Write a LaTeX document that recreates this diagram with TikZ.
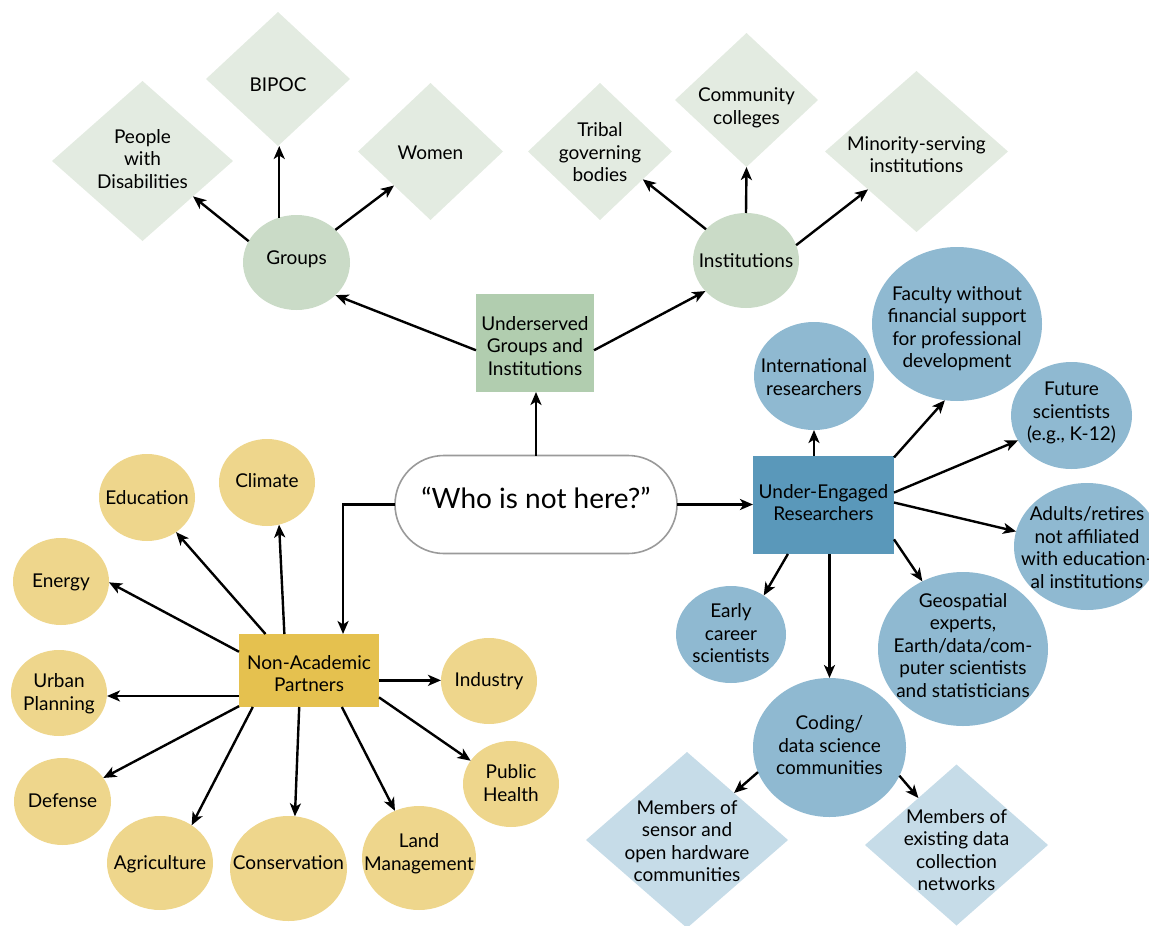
\documentclass[tikz,border=0pt]{standalone}
\usepackage{fontspec}
\setmainfont{Lato}
\usetikzlibrary{shapes.geometric,shapes.misc,arrows.meta}
\definecolor{gdia}{HTML}{E3EBE1}
\definecolor{gcir}{HTML}{CADBC7}
\definecolor{gbox}{HTML}{B1CDAF}
\definecolor{ycir}{HTML}{EED68C}
\definecolor{ybox}{HTML}{E5C14F}
\definecolor{bcir}{HTML}{8FB9D1}
\definecolor{bbox}{HTML}{5A98BA}
\definecolor{bdia}{HTML}{C6DCE8}
\definecolor{pillgray}{HTML}{9A9A9A}
\newcommand\ctext[2][0pt]{\makebox[0pt]{\raisebox{-0.3em}[0pt][0pt]{\raisebox{#1}{\begin{tabular}{@{}c@{}}#2\end{tabular}}}}}
\tikzset{
  base/.style={inner sep=0pt, outer sep=0pt, text=black, draw=none, font=\fontsize{19}{22.5}\selectfont},
  ell/.style n args={3}{base, ellipse, fill=#3, minimum width=2*#1, minimum height=2*#2},
  dia/.style n args={3}{base, diamond, fill=#3, minimum width=2*#1, minimum height=2*#2},
  boxn/.style n args={3}{base, rectangle, fill=#3, minimum width=2*#1, minimum height=2*#2},
  arr/.style={draw=black, line width=2.4pt, -{Stealth[length=13pt,width=11pt,inset=3.5pt]}},
}
\begin{document}
\begin{tikzpicture}[x=1pt,y=-1pt]
\useasboundingbox (0,0) rectangle (1149,926);

% ---- Underserved branch
\node[dia={90.5}{80}{gdia}] (ppl) at (142.5,161) {\ctext[1pt]{People\\with\\Disabilities}};
\node[dia={72}{67}{gdia}] (bip) at (278,79) {\ctext[-7pt]{BIPOC}};
\node[dia={72.5}{68.5}{gdia}] (wom) at (430.5,151.5) {\ctext[-2pt]{Women}};
\node[ell={53.5}{47.5}{gcir}] (grp) at (296.5,262.5) {\ctext[4pt]{Groups}};
\node[dia={72}{68.5}{gdia}] (tri) at (600,151.5) {\ctext[-2pt]{Tribal\\governing\\bodies}};
\node[dia={71.5}{67}{gdia}] (com) at (746.5,100) {\ctext[-7pt]{Community\\colleges}};
\node[dia={91.5}{80.5}{gdia}] (min) at (916.5,151.5) {\ctext[-4pt]{Minority-serving\\institutions}};
\node[ell={53}{47.5}{gcir}] (ins) at (746,260.5) {\ctext[-1pt]{Institutions}};
\node[boxn={59}{49}{gbox}] (us) at (535,343) {\ctext[-4pt]{Underserved\\Groups and\\Institutions}};

% ---- centre
\node[base, rounded rectangle, draw=pillgray, line width=1.6pt, fill=white,
  minimum width=282, minimum height=98, font=\fontsize{28}{34}\selectfont] (who) at (536,504.5)
  {\ctext[5pt]{“Who is not here?”}};

% ---- Under-engaged branch
\node[boxn={70.5}{49}{bbox}] (ue) at (823.5,505) {\ctext[1.5pt]{Under-Engaged\\Researchers}};
\node[ell={60}{54}{bcir}] (intl) at (814,376) {\ctext[-2pt]{International\\researchers}};
\node[ell={85}{77}{bcir}] (fac) at (957,324) {\ctext[-4pt]{Faculty without\\financial support\\for professional\\development}};
\node[ell={60.5}{53.5}{bcir}] (fut) at (1071.5,415.5) {\ctext[3pt]{Future\\scientists\\(e.g., K-12)}};
\node[ell={73}{63.5}{bcir}] (adu) at (1087,546.5) {\ctext[-2pt]{Adults/retires\\not affiliated\\with education-\\al institutions}};
\node[ell={85}{77}{bcir}] (geo) at (963,649) {\ctext[2.5pt]{Geospatial\\experts,\\Earth/data/com-\\puter scientists\\and statisticians}};
\node[ell={55}{48.5}{bcir}] (ear) at (731,634.5) {\ctext{Early\\career\\scientists}};
\node[ell={76.5}{69.5}{bcir}] (cod) at (829.5,747.5) {\ctext[1pt]{Coding/\\data science\\communities}};
\node[dia={101}{88}{bdia}] (sen) at (687,840) {\ctext[-2pt]{Members of\\sensor and\\open hardware\\communities}};
\node[dia={91.5}{80.5}{bdia}] (exi) at (956.5,845) {\ctext[-6pt]{Members of\\existing data\\collection\\networks}};

% ---- Non-academic branch
\node[boxn={70}{36.5}{ybox}] (na) at (309,670.5) {\ctext[-4pt]{Non-Academic\\Partners}};
\node[ell={48}{43.5}{ycir}] (edu) at (147,497.5) {\ctext[-1pt]{Education}};
\node[ell={48}{43.5}{ycir}] (cli) at (267,482.5) {\ctext[1pt]{Climate}};
\node[ell={48}{43.5}{ycir}] (ene) at (61,581.5) {\ctext{Energy}};
\node[ell={48}{43}{ycir}] (urb) at (59,693) {\ctext{Urban\\Planning}};
\node[ell={48.5}{43.5}{ycir}] (def) at (62.5,801.5) {\ctext{Defense}};
\node[ell={53}{47}{ycir}] (agr) at (160,863) {\ctext[-1pt]{Agriculture}};
\node[ell={58.5}{52.5}{ycir}] (con) at (288.5,868.5) {\ctext[5pt]{Conservation}};
\node[ell={57}{52}{ycir}] (lan) at (419,858) {\ctext[5pt]{Land\\Management}};
\node[ell={48}{43}{ycir}] (ind) at (489,681) {\ctext{Industry}};
\node[ell={48}{43}{ycir}] (pub) at (511,784) {\ctext{Public\\Health}};

% ---- connectors
\draw[arr] (who.north) -- (who.north |- us.south);
\draw[arr] (us.187.2) -- (grp.-40.4);
\draw[arr] (us.-7.2) -- (ins.217.5);
\draw[arr] (grp.156.1) -- (ppl.-35.2);
\draw[arr] (grp.111.3) -- (grp.111.3 |- bip.south);
\draw[arr] (grp.40) -- (wom.223.3);
\draw[arr] (ins.142.9) -- (tri.-33.5);
\draw[arr] (ins.north) -- (com.south);
\draw[arr] (ins.17.6) -- (min.-142.5);

\draw[arr] (who.east) -- (who.east -| ue.west);
\draw[arr] (intl.south |- ue.north) -- (intl.south);
\draw[arr] (ue.34.8) -- (fac.261.1);
\draw[arr] (ue.10.3) -- (fut.205.9);
\draw[arr] (ue.2.4) -- (adu.168);
\draw[arr] (ue.-26.7) -- (geo.121.1);
\draw[arr] (ue.234.6) -- (ear.50.7);
\draw[arr] (cod.north |- ue.south) -- (cod.north);
\draw[arr] (cod.199.4) -- (sen.45);
\draw[arr] (cod.-22.7) -- (exi.129.3);

\draw[arr] (who.west) -| (na.47);
\draw[arr] (na.140.5) -- (edu.-50.6);
\draw[arr] (na.124.1) -- (cli.-74.9);
\draw[arr] (na.165.8) -- (ene.-1.7);
\draw[arr] (na.200.7) -- (na.200.7 -| urb.east);
\draw[arr] (na.207.9) -- (def.30);
\draw[arr] (na.213.6) -- (agr.50.5);
\draw[arr] (na.255.1) -- (con.83.8);
\draw[arr] (na.-48.8) -- (lan.117);
\draw[arr] (na.-8.5) -- (na.-8.5 -| ind.west);
\draw[arr] (na.-21.4) -- (pub.150.6);
\end{tikzpicture}
\end{document}
